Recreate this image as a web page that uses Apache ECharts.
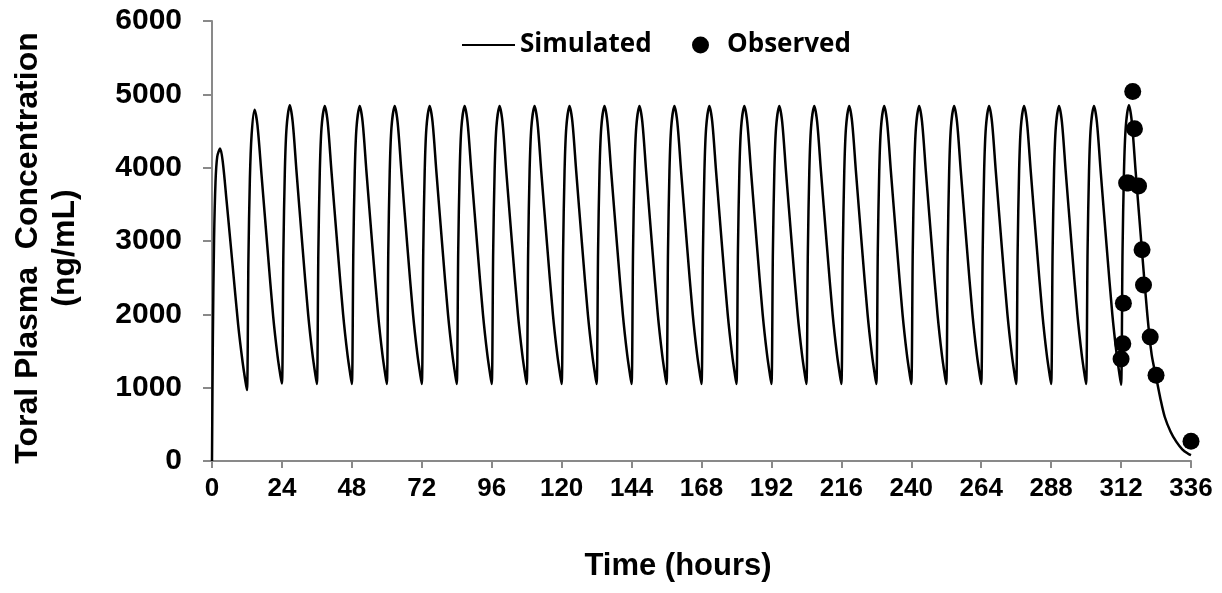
<!DOCTYPE html>
<html><head><meta charset="utf-8">
<script src="https://cdn.jsdelivr.net/npm/echarts@6/dist/echarts.min.js"></script>
<style>html,body{margin:0;padding:0;background:#fff}#c{width:1222px;height:593px}</style>
</head><body><div id="c"></div>
<script>
// x tick labels (hours) and y tick labels (ng/mL)
const xTicks = [0,24,48,72,96,120,144,168,192,216,240,264,288,312,336];
const yTicks = [0,1000,2000,3000,4000,5000,6000];

// Simulated concentration-time profile [time (h), conc (ng/mL)]
const simulated = [
  [0,0],[0.3,1700],[0.7,3000],[1.2,3800],[1.8,4150],[2.8,4260],[3.7,4080],[5,3550],[7,2700],[9,1850],[10.5,1350],[11.5,1080],
  [12,967],[12.5,2750],[13,3850],[13.6,4450],[14.6,4790],[15.6,4580],[17,3900],[19,2920],[21,1970],[22.5,1430],[23.5,1160],
  [24,1058],[24.5,2850],[25,3950],[25.6,4550],[26.7,4850],[27.7,4620],[29,3950],[31,2950],[33,2000],[34.5,1450],[35.5,1170],
  [36,1050],[36.5,2850],[37,3950],[37.6,4550],[38.7,4840],[39.7,4620],[41,3950],[43,2950],[45,2000],[46.5,1450],[47.5,1170],
  [48,1050],[48.5,2850],[49,3950],[49.6,4550],[50.7,4840],[51.7,4620],[53,3950],[55,2950],[57,2000],[58.5,1450],[59.5,1170],
  [60,1050],[60.5,2850],[61,3950],[61.6,4550],[62.7,4840],[63.7,4620],[65,3950],[67,2950],[69,2000],[70.5,1450],[71.5,1170],
  [72,1050],[72.5,2850],[73,3950],[73.6,4550],[74.7,4840],[75.7,4620],[77,3950],[79,2950],[81,2000],[82.5,1450],[83.5,1170],
  [84,1050],[84.5,2850],[85,3950],[85.6,4550],[86.7,4840],[87.7,4620],[89,3950],[91,2950],[93,2000],[94.5,1450],[95.5,1170],
  [96,1050],[96.5,2850],[97,3950],[97.6,4550],[98.7,4840],[99.7,4620],[101,3950],[103,2950],[105,2000],[106.5,1450],[107.5,1170],
  [108,1050],[108.5,2850],[109,3950],[109.6,4550],[110.7,4840],[111.7,4620],[113,3950],[115,2950],[117,2000],[118.5,1450],[119.5,1170],
  [120,1050],[120.5,2850],[121,3950],[121.6,4550],[122.7,4840],[123.7,4620],[125,3950],[127,2950],[129,2000],[130.5,1450],[131.5,1170],
  [132,1050],[132.5,2850],[133,3950],[133.6,4550],[134.7,4840],[135.7,4620],[137,3950],[139,2950],[141,2000],[142.5,1450],[143.5,1170],
  [144,1050],[144.5,2850],[145,3950],[145.6,4550],[146.7,4840],[147.7,4620],[149,3950],[151,2950],[153,2000],[154.5,1450],[155.5,1170],
  [156,1050],[156.5,2850],[157,3950],[157.6,4550],[158.7,4840],[159.7,4620],[161,3950],[163,2950],[165,2000],[166.5,1450],[167.5,1170],
  [168,1050],[168.5,2850],[169,3950],[169.6,4550],[170.7,4840],[171.7,4620],[173,3950],[175,2950],[177,2000],[178.5,1450],[179.5,1170],
  [180,1050],[180.5,2850],[181,3950],[181.6,4550],[182.7,4840],[183.7,4620],[185,3950],[187,2950],[189,2000],[190.5,1450],[191.5,1170],
  [192,1050],[192.5,2850],[193,3950],[193.6,4550],[194.7,4840],[195.7,4620],[197,3950],[199,2950],[201,2000],[202.5,1450],[203.5,1170],
  [204,1050],[204.5,2850],[205,3950],[205.6,4550],[206.7,4840],[207.7,4620],[209,3950],[211,2950],[213,2000],[214.5,1450],[215.5,1170],
  [216,1050],[216.5,2850],[217,3950],[217.6,4550],[218.7,4840],[219.7,4620],[221,3950],[223,2950],[225,2000],[226.5,1450],[227.5,1170],
  [228,1050],[228.5,2850],[229,3950],[229.6,4550],[230.7,4840],[231.7,4620],[233,3950],[235,2950],[237,2000],[238.5,1450],[239.5,1170],
  [240,1050],[240.5,2850],[241,3950],[241.6,4550],[242.7,4840],[243.7,4620],[245,3950],[247,2950],[249,2000],[250.5,1450],[251.5,1170],
  [252,1050],[252.5,2850],[253,3950],[253.6,4550],[254.7,4840],[255.7,4620],[257,3950],[259,2950],[261,2000],[262.5,1450],[263.5,1170],
  [264,1050],[264.5,2850],[265,3950],[265.6,4550],[266.7,4840],[267.7,4620],[269,3950],[271,2950],[273,2000],[274.5,1450],[275.5,1170],
  [276,1050],[276.5,2850],[277,3950],[277.6,4550],[278.7,4840],[279.7,4620],[281,3950],[283,2950],[285,2000],[286.5,1450],[287.5,1170],
  [288,1050],[288.5,2850],[289,3950],[289.6,4550],[290.7,4840],[291.7,4620],[293,3950],[295,2950],[297,2000],[298.5,1450],[299.5,1170],
  [300,1050],[300.5,2850],[301,3950],[301.6,4550],[302.7,4840],[303.7,4620],[305,3950],[307,2950],[309,2000],[310.5,1450],[311.5,1170],
  [312,1040],[312.5,2850],[313,3950],[313.6,4550],[314.7,4850],[315.7,4620],[317,3950],[319,2950],[321,2000],[322.5,1450],[324,1150],
  [325.5,850],[327,600],[329,400],[331,260],[333,160],[335,100],[336,80]
];

// Observed concentrations [time (h), conc (ng/mL)]
const observed = [
  [312.0,1390],[312.6,1600],[312.8,2150],[313.9,3790],[314.5,3790],[316.0,5040],[316.6,4530],
  [318.0,3750],[319.2,2880],[319.7,2400],[322.0,1690],[324.0,1170],[336.0,270]
];

const chart = echarts.init(document.getElementById('c'), null, {renderer:'canvas'});
const tickFont = {fontFamily:'Liberation Sans', fontWeight:'bold', color:'#000'};
const legendFont = {fontFamily:'Open Sans', fontWeight:'bold', fontSize:26, color:'#000'};
chart.setOption({
  animation:false,
  backgroundColor:'#fff',
  grid:{left:212, right:31, top:21, bottom:132, containLabel:false},
  legend:[
    {data:[{name:'Simulated', icon:'rect', itemStyle:{color:'#000'}}], left:457, top:27, itemWidth:53, itemHeight:2,
     selectedMode:false, textStyle:legendFont},
    {data:[{name:'Observed', icon:'circle', itemStyle:{color:'#000', opacity:1}}], left:687, top:27, itemWidth:17, itemHeight:17,
     selectedMode:false, textStyle:Object.assign({}, legendFont, {padding:[0,0,0,13]})}
  ],
  xAxis:{
    type:'value', min:xTicks[0], max:xTicks[xTicks.length-1], interval:xTicks[1]-xTicks[0],
    name:'Time (hours)', nameLocation:'middle', nameGap:90,
    nameTextStyle:Object.assign({}, tickFont, {fontSize:31, padding:[0,47,0,0]}),
    axisLine:{show:true, lineStyle:{color:'#898989', width:2}},
    axisTick:{show:true, length:7, lineStyle:{color:'#898989', width:2}},
    axisLabel:Object.assign({}, tickFont, {fontSize:26, margin:15, formatter:v=>String(v)}),
    splitLine:{show:false}
  },
  yAxis:{
    type:'value', min:yTicks[0], max:yTicks[yTicks.length-1], interval:yTicks[1]-yTicks[0],
    name:'Toral Plasma  Concentration\n(ng/mL)', nameLocation:'middle', nameRotate:90, nameGap:128,
    nameTextStyle:Object.assign({}, tickFont, {fontSize:32, lineHeight:37, padding:[0,14,0,0]}),
    axisLine:{show:true, lineStyle:{color:'#898989', width:2}},
    axisTick:{show:true, length:9, lineStyle:{color:'#898989', width:2}},
    axisLabel:Object.assign({}, tickFont, {fontSize:30, margin:30, formatter:v=>String(v)}),
    splitLine:{show:false}
  },
  series:[
    {type:'line', name:'Simulated', data:simulated, symbol:'none', showSymbol:false, smooth:0.3,
     lineStyle:{color:'#000', width:2.5}, itemStyle:{color:'#000'}, z:2},
    {type:'scatter', name:'Observed', data:observed, symbol:'circle', symbolSize:17,
     itemStyle:{color:'#000', opacity:1}, z:3}
  ]
});
</script></body></html>
